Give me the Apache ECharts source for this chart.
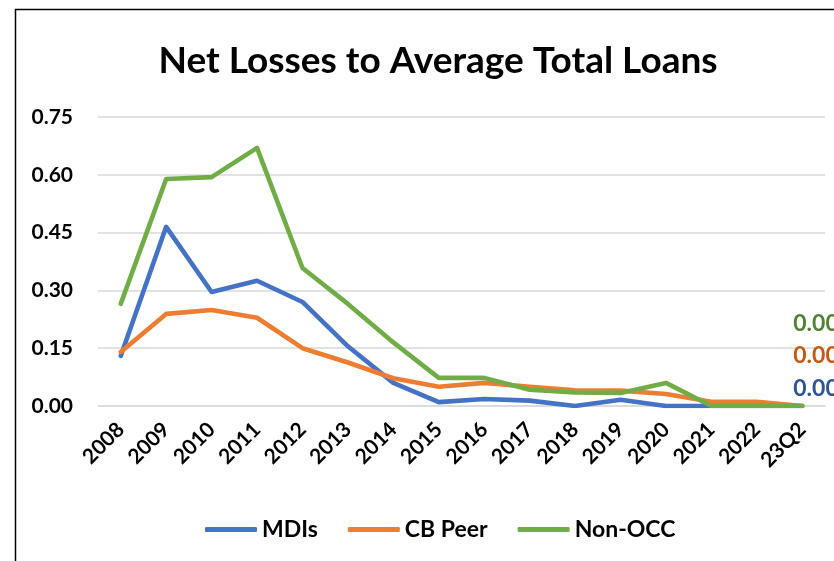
<!DOCTYPE html>
<html><head><meta charset="utf-8">
<script src="https://cdn.jsdelivr.net/npm/echarts@6/dist/echarts.min.js"></script>
<style>html,body{margin:0;padding:0;background:#fff}#c{width:834px;height:561px}</style>
</head><body><div id="c"></div>
<script>
const categories = ['2008','2009','2010','2011','2012','2013','2014','2015','2016','2017','2018','2019','2020','2021','2022','23Q2'];
const mdis    = [0.13, 0.465, 0.296, 0.325, 0.27, 0.155, 0.06, 0.01, 0.018, 0.014, 0.0, 0.016, 0.0, 0.0, 0.0, 0.0];
const cbPeer  = [0.14, 0.239, 0.249, 0.229, 0.15, 0.113, 0.072, 0.05, 0.06, 0.05, 0.041, 0.04, 0.031, 0.011, 0.011, 0.0];
const nonOcc  = [0.265, 0.589, 0.594, 0.67, 0.358, 0.265, 0.165, 0.073, 0.073, 0.042, 0.035, 0.034, 0.06, 0.0, 0.0, 0.0];
const yTicks = [0, 0.15, 0.30, 0.45, 0.60, 0.75];

const FONT = 'Lato, "Open Sans", sans-serif';
const chart = echarts.init(document.getElementById('c'), null, {renderer:'canvas'});
function mk(name, data, color, labelColor, dy){
  return {
    name, type:'line', data, symbol:'none', smooth:false,
    lineStyle:{width:4.6, color, cap:'round', join:'round'}, itemStyle:{color},
    endLabel:{show:true, formatter:p=>Number(p.value).toFixed(2), color:labelColor,
      fontFamily:FONT, fontWeight:'bold', fontSize:23, offset:[-17, dy], align:'left', verticalAlign:'middle'}
  };
}
chart.setOption({
  animation:false,
  title:{text:'Net Losses to Average Total Loans', left:433, top:38, textAlign:'center',
    textStyle:{fontFamily:FONT, fontWeight:'bold', fontSize:37, color:'#000'}},
  grid:{left:98, right:9, top:117, bottom:155, containLabel:false},
  legend:{top:513, left:200, itemWidth:52, itemHeight:5, itemGap:30, icon:'roundRect',
    textStyle:{fontFamily:FONT, fontWeight:'bold', fontSize:23, color:'#000'},
    data:['MDIs','CB Peer','Non-OCC']},
  xAxis:{type:'category', data:categories, boundaryGap:true,
    axisLine:{show:true, lineStyle:{color:'#d9d9d9', width:1.5}}, axisTick:{show:false},
    axisLabel:{rotate:45, interval:0, margin:20, fontFamily:FONT, fontWeight:'bold', fontSize:21, color:'#000'}},
  yAxis:{type:'value', min:0, max:0.75, interval:0.15,
    axisLine:{show:false}, axisTick:{show:false},
    splitLine:{lineStyle:{color:'#d9d9d9', width:1.5}},
    axisLabel:{margin:25, formatter:v=>v.toFixed(2), fontFamily:FONT, fontWeight:'bold', fontSize:21, color:'#000'}},
  series:[
    mk('MDIs', mdis, '#4472C4', '#2F5597', -17),
    mk('CB Peer', cbPeer, '#ED7D31', '#C55A11', -50),
    mk('Non-OCC', nonOcc, '#70AD47', '#548235', -82)
  ],
  graphic:[{type:'polyline', shape:{points:[[15.5,561],[15.5,9.5],[834,9.5]]}, style:{stroke:'#000', lineWidth:1.5, fill:null}}]
});
</script></body></html>
